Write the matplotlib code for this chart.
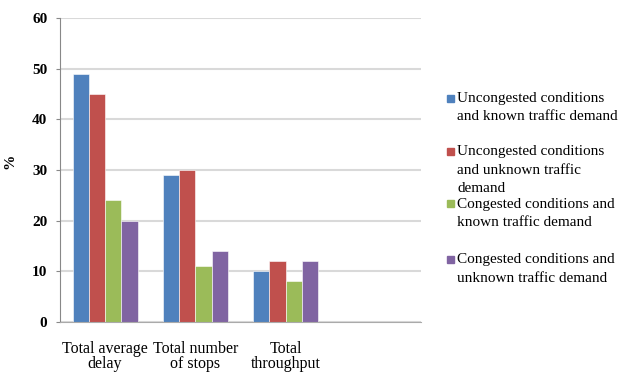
import matplotlib.pyplot as plt
from matplotlib.patches import Rectangle
import numpy as np

plt.rcParams['font.family'] = ['Liberation Serif', 'DejaVu Serif']

categories = ['Total average\ndelay', 'Total number\nof stops', 'Total\nthroughput']
series_names = ['Uncongested conditions\nand known traffic demand',
                'Uncongested conditions\nand unknown traffic\ndemand',
                'Congested conditions and\nknown traffic demand',
                'Congested conditions and\nunknown traffic demand']
unc_known = [49, 29, 10]
unc_unknown = [45, 30, 12]
cong_known = [24, 11, 8]
cong_unknown = [20, 14, 12]
colors = ['#4F81BD', '#C0504D', '#9BBB59', '#8064A2']

fig = plt.figure(figsize=(6.22, 3.72), dpi=100)
ax = fig.add_axes([60/622, 1-322/372, 361/622, 304/372])

x = np.arange(len(categories))
w = 0.18
for i, vals in enumerate([unc_known, unc_unknown, cong_known, cong_unknown]):
    ax.bar(x + (i - 1.5) * w, vals, w, color=colors[i], edgecolor='white', linewidth=0.4, zorder=3)

ax.set_xlim(-0.5, 3.5)
ax.set_ylim(0, 60)
ax.set_yticks(range(0, 61, 10))
ax.set_xticks(x)
ax.set_xticklabels(categories, fontsize=11.5, linespacing=0.9)
ax.tick_params(axis='x', length=0, pad=14)
ax.tick_params(axis='y', length=3, color='#888888', pad=6, labelsize=11)
for lab in ax.get_yticklabels():
    lab.set_fontweight('bold')
ax.grid(axis='y', color='#D9D9D9', linewidth=1.5, zorder=0)
for s in ['top', 'right']:
    ax.spines[s].set_visible(False)
ax.spines['left'].set_color('#888888')
ax.spines['bottom'].set_color('#AAAAAA')
ax.spines['bottom'].set_zorder(4)
ax.set_ylabel('%', fontsize=11, fontweight='bold')
ax.yaxis.set_label_coords(-0.12, 0.53)

# legend drawn by hand to follow the uneven spacing (pixel rows of first line)
leg_y = [98, 151, 204, 259]
for name, c, yy in zip(series_names, colors, leg_y):
    fig.patches.append(Rectangle((447/622, 1-(yy+3.5)/372), 7/622, 7/372,
                                 transform=fig.transFigure, color=c))
    fig.text(457/622, 1-(yy-6)/372, name, fontsize=11, va='top', ha='left', linespacing=1.55)

fig.savefig('out.png', dpi=100)
